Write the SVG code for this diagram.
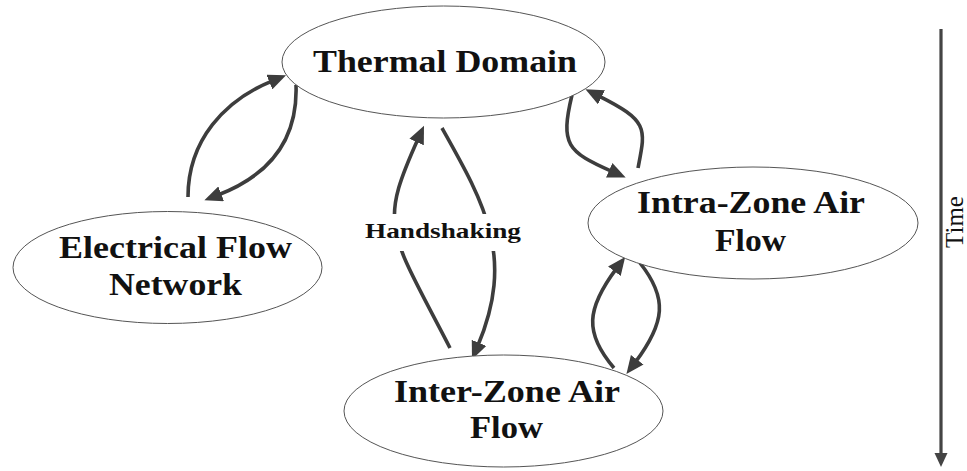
<svg xmlns="http://www.w3.org/2000/svg" width="967" height="471" viewBox="0 0 967 471">
  <style>
    .node ellipse { fill: #ffffff; stroke: #555555; stroke-width: 1; }
    .node text, .label { font-family: "Liberation Serif", "Times New Roman", serif; font-weight: bold; fill: #111111; text-anchor: middle; }
    .node text { font-size: 32px; }
    .label { font-size: 22px; }
    .edge { fill: none; stroke: #3d3d3d; stroke-width: 3.6; marker-end: url(#head); }
    .axis { fill: none; stroke: #444444; stroke-width: 3.2; }
    .axis-label { font-family: "Liberation Serif", "Times New Roman", serif; font-size: 25px; fill: #111111; text-anchor: middle; }
  </style>
  <defs>
    <marker id="head" markerUnits="userSpaceOnUse" markerWidth="18" markerHeight="16" viewBox="0 0 16 14" refX="3" refY="7" orient="auto">
      <path d="M0,0 L16,7 L0,14 z" fill="#3d3d3d"/>
    </marker>
  </defs>

  <rect x="0" y="0" width="967" height="471" fill="#ffffff"/>

  <!-- connectors -->
  <g id="connectors">
    <!-- Electrical <-> Thermal -->
    <path class="edge" d="M188,197 C188,140 225,100 272.5,80.8"/>
    <path class="edge" d="M296,85 C298,140 270,175 218,195"/>
    <!-- Thermal <-> Inter-Zone (handshaking) -->
    <path class="edge" d="M450,348 C388.5,229 378.2,227.4 418,139"/>
    <path class="edge" d="M442,128 C484.6,203.6 515.4,257 477.7,346"/>
    <!-- Thermal <-> Intra-Zone -->
    <path class="edge" d="M572,95 C560,145 567.3,151.6 612.3,171.6"/>
    <path class="edge" d="M638,168 C646,128 648.5,120.8 598.5,95.8"/>
    <!-- Inter-Zone <-> Intra-Zone -->
    <path class="edge" d="M614,368 C584,333 586.4,308.6 616.4,268.6"/>
    <path class="edge" d="M640,263 C668,298 665.2,322.4 635.2,362.4"/>
    <!-- edge label -->
    <rect x="358" y="214" width="170" height="37" fill="#ffffff"/>
    <text class="label" x="443" y="238" textLength="156" lengthAdjust="spacingAndGlyphs">Handshaking</text>
  </g>

  <!-- nodes -->
  <g id="thermal" class="node">
    <ellipse cx="443.5" cy="62" rx="161.5" ry="56"/>
    <text x="445" y="72" textLength="264" lengthAdjust="spacingAndGlyphs">Thermal Domain</text>
  </g>

  <g id="electrical" class="node">
    <ellipse cx="167.5" cy="267.5" rx="154.5" ry="56"/>
    <text x="175.5" y="258" textLength="233" lengthAdjust="spacingAndGlyphs">Electrical Flow</text>
    <text x="175.5" y="295" textLength="133" lengthAdjust="spacingAndGlyphs">Network</text>
  </g>

  <g id="intrazone" class="node">
    <ellipse cx="753" cy="223" rx="165" ry="56"/>
    <text x="751" y="213" textLength="228" lengthAdjust="spacingAndGlyphs">Intra-Zone Air</text>
    <text x="750.5" y="251" textLength="71" lengthAdjust="spacingAndGlyphs">Flow</text>
  </g>

  <g id="interzone" class="node">
    <ellipse cx="503.5" cy="411" rx="159.5" ry="56"/>
    <text x="507" y="402" textLength="226" lengthAdjust="spacingAndGlyphs">Inter-Zone Air</text>
    <text x="506.5" y="438" textLength="73" lengthAdjust="spacingAndGlyphs">Flow</text>
  </g>

  <!-- time axis -->
  <g id="time">
    <line class="axis" x1="941" y1="29" x2="941" y2="455"/>
    <path d="M934.5,453 L947.5,453 L941,467 z" fill="#444444"/>
    <text class="axis-label" transform="translate(963,222) rotate(-90)">Time</text>
  </g>
</svg>
